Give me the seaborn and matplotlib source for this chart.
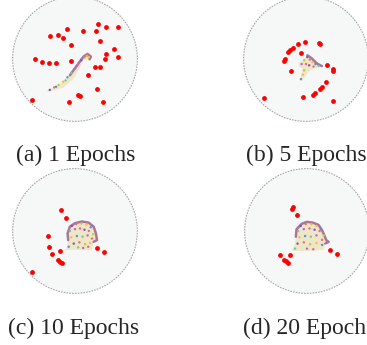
import numpy as np
import pandas as pd
import matplotlib.pyplot as plt
import seaborn as sns
from matplotlib.patches import Circle, Polygon

sns.set_style("white")
plt.rcParams['font.family'] = ['Liberation Serif', 'DejaVu Serif']

captions = ["(a) 1 Epochs", "(b) 5 Epochs", "(c) 10 Epochs", "(d) 20 Epochs"]

# red points (Poincare disk coordinates)
red_a_x = [0.371, 0.489, 0.683, -0.134, 0.124, 0.339, -0.398, -0.263, -0.194, 0.392, -0.059,
           0.618, 0.495, 0.473, 0.688, -0.634, -0.516, -0.414, -0.296, -0.070, 0.323, 0.403,
           0.199, 0.344, 0.054, 0.086, -0.688, -0.097, 0.441]
red_a_y = [0.559, 0.511, 0.511, 0.484, 0.441, 0.452, 0.360, 0.382, 0.339, 0.280, 0.220,
           0.151, 0.075, -0.005, 0.027, 0.000, -0.048, -0.070, -0.059, -0.027, -0.129, -0.124,
           -0.258, -0.484, -0.565, -0.586, -0.651, -0.683, -0.683]
red_b_x = [-0.016, -0.129, 0.199, 0.221, -0.210, -0.247, -0.280, -0.075, -0.339, -0.355, 0.328,
           -0.231, 0.430, 0.425, 0.323, 0.253, 0.226, 0.140, 0.113, -0.048, -0.667, 0.435]
red_b_y = [0.269, 0.237, 0.258, 0.237, 0.182, 0.145, 0.108, 0.091, 0.005, -0.038, -0.091,
           -0.183, -0.161, -0.183, -0.366, -0.446, -0.478, -0.543, -0.565, -0.608, -0.624, -0.672]
red_c_x = [-0.215, -0.140, -0.430, -0.419, -0.237, -0.360, -0.263, -0.237, -0.204, 0.349, 0.468, -0.688]
red_c_y = [0.327, 0.210, -0.075, -0.247, -0.317, -0.371, -0.468, -0.489, -0.511, -0.263, -0.339, -0.650]
red_d_x = [-0.215, -0.237, -0.156, -0.430, -0.274, -0.360, -0.333, -0.306, 0.360, 0.473]
red_d_y = [0.376, 0.355, 0.258, -0.376, -0.376, -0.457, -0.479, -0.505, -0.295, -0.360]

# outline of the dense embedding cloud
cloud_a_x = [-0.457, -0.242, -0.081, 0.054, 0.134, 0.199, 0.253, 0.231, 0.134, 0.070, -0.027, -0.188, -0.403]
cloud_a_y = [-0.511, -0.403, -0.258, -0.070, 0.038, 0.081, 0.038, -0.005, -0.016, -0.151, -0.312, -0.457, -0.516]
cloud_b_x = [0.022, 0.091, 0.172, 0.253, 0.199, 0.118, 0.038, -0.016, -0.070, -0.097, -0.070, -0.054, -0.124, -0.097, -0.032]
cloud_b_y = [0.059, 0.011, -0.070, -0.113, -0.140, -0.151, -0.204, -0.285, -0.355, -0.328, -0.231, -0.151, -0.113, -0.059, -0.005]
cloud_c_x = [-0.134, -0.108, -0.118, -0.081, 0.000, 0.108, 0.215, 0.296, 0.333, 0.349, 0.296, 0.269, 0.134, -0.027, -0.161]
cloud_c_y = [-0.280, -0.145, -0.038, 0.070, 0.124, 0.151, 0.134, 0.070, -0.038, -0.145, -0.172, -0.296, -0.306, -0.296, -0.306]
cloud_d_x = [-0.247, -0.194, -0.177, -0.167, -0.086, -0.005, 0.091, 0.183, 0.237, 0.274, 0.306, 0.344, 0.290, 0.263, 0.102, -0.059, -0.210]
cloud_d_y = [-0.306, -0.226, -0.091, 0.027, 0.113, 0.145, 0.134, 0.097, 0.016, -0.065, -0.145, -0.172, -0.199, -0.296, -0.317, -0.317, -0.317]

# speckles inside the cloud
speck_a_x = [-0.40, -0.33, -0.26, -0.19, -0.12, -0.06, 0.00, 0.05, 0.10, 0.15, 0.19, 0.22, -0.30, -0.15, 0.02]
speck_a_y = [-0.49, -0.45, -0.41, -0.36, -0.29, -0.22, -0.15, -0.08, -0.02, 0.03, 0.05, 0.03, -0.44, -0.34, -0.12]
speck_b_x = [0.02, 0.06, -0.03, 0.10, 0.15, 0.20, -0.07, 0.00, 0.05, 0.12, -0.03, -0.05, -0.08]
speck_b_y = [0.03, -0.01, -0.02, -0.05, -0.08, -0.11, -0.08, -0.08, -0.10, -0.12, -0.18, -0.25, -0.32]
speck_c_x = [-0.05, 0.02, 0.10, 0.18, 0.25, -0.08, 0.00, 0.08, 0.15, 0.22, 0.29, -0.06,
             0.03, 0.12, 0.20, 0.27, -0.02, 0.07, 0.16, 0.24, -0.10, 0.05, 0.13, 0.21]
speck_c_y = [0.08, 0.11, 0.12, 0.10, 0.06, 0.00, 0.03, 0.04, 0.02, 0.00, -0.05, -0.10,
             -0.08, -0.09, -0.07, -0.12, -0.20, -0.18, -0.21, -0.19, -0.25, -0.26, -0.27, -0.25]
speck_d_x = [-0.10, -0.02, 0.07, 0.15, 0.22, -0.14, -0.05, 0.04, 0.12, 0.20, 0.27, -0.12,
             -0.03, 0.06, 0.15, 0.24, -0.15, -0.05, 0.05, 0.15, 0.24, -0.19, 0.00, 0.10]
speck_d_y = [0.08, 0.11, 0.11, 0.08, 0.03, 0.00, 0.03, 0.04, 0.02, 0.00, -0.07, -0.10,
             -0.08, -0.09, -0.07, -0.14, -0.20, -0.18, -0.21, -0.19, -0.22, -0.28, -0.28, -0.29]

panels = [
    (red_a_x, red_a_y, cloud_a_x, cloud_a_y, speck_a_x, speck_a_y, (2, 8)),
    (red_b_x, red_b_y, cloud_b_x, cloud_b_y, speck_b_x, speck_b_y, (0, 4)),
    (red_c_x, red_c_y, cloud_c_x, cloud_c_y, speck_c_x, speck_c_y, (1, 11)),
    (red_d_x, red_d_y, cloud_d_x, cloud_d_y, speck_d_x, speck_d_y, (2, 13)),
]

W, H = 367, 345
centers = [(75, 59), (306, 59), (75, 231), (307, 231)]
R = 63
speck_colors = ["#7e57c2", "#e57373", "#c0ca33", "#ffb74d", "#5c8fd6", "#81c784", "#ba68c8", "#f06292"]

fig = plt.figure(figsize=(W / 100, H / 100), dpi=100)
for i, (rx, ry, cx, cy, sx, sy, edge) in enumerate(panels):
    px, py = centers[i]
    ax = fig.add_axes([(px - R) / W, 1 - (py + R) / H, 2 * R / W, 2 * R / H])
    ax.set_xlim(-1, 1)
    ax.set_ylim(-1, 1)
    ax.set_aspect('equal')
    ax.axis('off')
    ax.add_patch(Circle((0, 0), 0.99, facecolor="#f6f8f8", edgecolor="#a8a8a8",
                        lw=0.8, ls=(0, (1.5, 1)), zorder=0))
    ax.add_patch(Polygon(np.column_stack([cx, cy]), closed=True, facecolor="#ebe0b8",
                         edgecolor="none", alpha=0.75, zorder=1))
    a, b = edge
    ax.plot(cx[a:b], cy[a:b], color="#7a5a9e", lw=1.8, alpha=0.75, zorder=2)
    ax.plot(cx[a:b], cy[a:b], color="#d9606a", lw=0.6, alpha=0.7, zorder=2)
    df_s = pd.DataFrame({"x": sx, "y": sy, "k": [j % len(speck_colors) for j in range(len(sx))]})
    sns.scatterplot(data=df_s, x="x", y="y", hue="k", palette=speck_colors[:df_s["k"].nunique()],
                    s=3, linewidth=0, legend=False, ax=ax, zorder=3)
    df_r = pd.DataFrame({"x": rx, "y": ry})
    sns.scatterplot(data=df_r, x="x", y="y", color="#ff0000", s=12, linewidth=0,
                    legend=False, ax=ax, zorder=4)
    ax.set_xlabel("")
    ax.set_ylabel("")

cap_x = [76, 306, 74, 309]
cap_y = [1 - 161 / H, 1 - 161 / H, 1 - 334 / H, 1 - 334 / H]
for i, t in enumerate(captions):
    fig.text(cap_x[i] / W, cap_y[i], t, ha="center", va="baseline", fontsize=17)

fig.savefig("out.png", dpi=100)
